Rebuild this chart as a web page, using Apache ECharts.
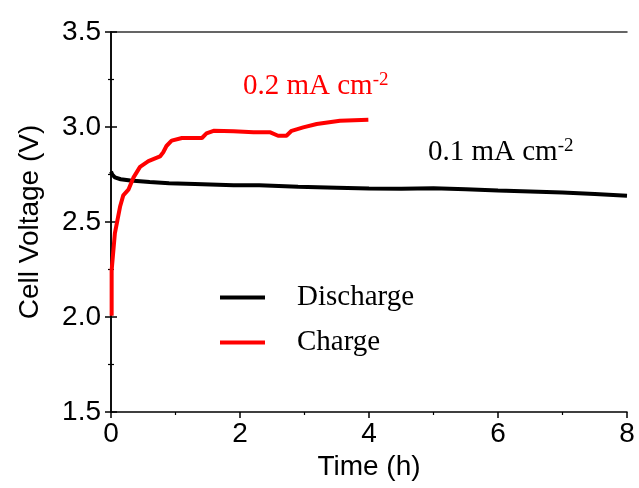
<!DOCTYPE html>
<html>
<head>
<meta charset="utf-8">
<script src="https://cdn.jsdelivr.net/npm/echarts@6/dist/echarts.min.js"></script>
<style>
  html, body { margin: 0; padding: 0; background: #fff; }
  #chart { width: 639px; height: 488px; }
</style>
</head>
<body>
<div id="chart"></div>
<script>
// values
const dischargeTime = [0, 0.02, 0.06, 0.15, 0.3, 0.6, 0.9, 1.3, 1.9, 2.3, 2.9, 3.5, 4.0, 4.5, 5.0, 5.5, 6.0, 6.5, 7.0, 7.5, 8.0]
const dischargeVolt = [2.765, 2.75, 2.735, 2.725, 2.718, 2.71, 2.704, 2.70, 2.693, 2.694, 2.685, 2.68, 2.676, 2.675, 2.677, 2.673, 2.666, 2.661, 2.655, 2.647, 2.638]

const chargeTime = [0.01, 0.01, 0.06, 0.14, 0.19, 0.27, 0.35, 0.45, 0.58, 0.76, 0.81, 0.86, 0.94, 1.10, 1.41, 1.48, 1.59, 1.90, 2.21, 2.47, 2.59, 2.72, 2.80, 2.98, 3.19, 3.55, 3.99]
const chargeVolt = [2.006, 2.245, 2.44, 2.58, 2.64, 2.67, 2.735, 2.79, 2.82, 2.845, 2.867, 2.90, 2.928, 2.942, 2.942, 2.966, 2.98, 2.977, 2.972, 2.972, 2.954, 2.954, 2.98, 2.998, 3.016, 3.033, 3.038]

const xTicks = { min: 0, max: 8, step: 2 }
const yTicks = { min: 1.5, max: 3.5, step: 0.5 }

const pairs = (xs, ys) => xs.map((x, i) => [x, ys[i]])

const sansFont = 'Liberation Sans, Arial, sans-serif'
const serifFont = 'Liberation Serif, Times New Roman, serif'

const axisLine = { show: true, lineStyle: { color: '#000', width: 1.5 } }
const tick = { show: true, inside: false, length: 6, lineStyle: { color: '#000', width: 1.5 } }
const minor = { show: true, splitNumber: 2, length: 3, lineStyle: { color: '#000', width: 1.2 } }

// superscript label, e.g. "0.2 mA cm-2"
const unitLabel = (x, y, value, color) => ({
  type: 'text',
  left: x,
  top: y,
  style: {
    text: '{a|' + value + ' mA cm}{s|-2}',
    rich: {
      a: { fontFamily: serifFont, fontSize: 29, lineHeight: 30, fill: color },
      s: { fontFamily: serifFont, fontSize: 19, lineHeight: 13, verticalAlign: 'top', fill: color }
    }
  }
})

const chart = echarts.init(document.getElementById('chart'), null, { renderer: 'canvas' })

const option = {
  animation: false,
  backgroundColor: '#fff',
  grid: { left: 111, right: 12, top: 32, bottom: 76 },
  legend: {
    orient: 'vertical',
    left: 220,
    top: 283,
    padding: 0,
    itemWidth: 45,
    itemHeight: 4,
    itemGap: 16,
    icon: 'rect',
    textStyle: { fontFamily: serifFont, fontSize: 29, color: '#000', lineHeight: 29, padding: [0, 0, 0, 27] },
    data: ['Discharge', 'Charge']
  },
  xAxis: [
    {
      type: 'value',
      min: xTicks.min,
      max: xTicks.max,
      interval: xTicks.step,
      name: 'Time (h)',
      nameLocation: 'middle',
      nameGap: 41,
      nameTextStyle: { fontFamily: sansFont, fontSize: 28, color: '#000' },
      axisLine: axisLine,
      axisTick: tick,
      minorTick: minor,
      splitLine: { show: false },
      axisLabel: { fontFamily: sansFont, fontSize: 28, color: '#000', margin: 8 }
    },
    {
      type: 'value',
      position: 'top',
      min: xTicks.min,
      max: xTicks.max,
      interval: xTicks.step,
      axisLine: { show: true, lineStyle: { color: '#333', width: 1.5 } },
      axisTick: { show: false },
      axisLabel: { show: false },
      splitLine: { show: false }
    }
  ],
  yAxis: [
    {
      type: 'value',
      min: yTicks.min,
      max: yTicks.max,
      interval: yTicks.step,
      name: 'Cell Voltage (V)',
      nameLocation: 'middle',
      nameGap: 67,
      nameTextStyle: { fontFamily: sansFont, fontSize: 28, color: '#000' },
      axisLine: axisLine,
      axisTick: tick,
      minorTick: minor,
      splitLine: { show: false },
      axisLabel: {
        fontFamily: sansFont, fontSize: 28, color: '#000', margin: 10,
        formatter: v => v.toFixed(1)
      }
    },
    {
      type: 'value',
      position: 'right',
      min: yTicks.min,
      max: yTicks.max,
      interval: yTicks.step,
      axisLine: axisLine,
      axisTick: tick,
      minorTick: minor,
      axisLabel: { show: false },
      splitLine: { show: false }
    }
  ],
  graphic: [
    unitLabel(243, 71, '0.2', '#ff0000'),
    unitLabel(428, 137, '0.1', '#000')
  ],
  series: [
    {
      name: 'Discharge',
      type: 'line',
      showSymbol: false,
      color: '#000',
      lineStyle: { width: 4, color: '#000' },
      data: pairs(dischargeTime, dischargeVolt)
    },
    {
      name: 'Charge',
      type: 'line',
      showSymbol: false,
      color: '#ff0000',
      lineStyle: { width: 4, color: '#ff0000' },
      data: pairs(chargeTime, chargeVolt)
    }
  ]
}

chart.setOption(option)
window.addEventListener('resize', chart.resize)
</script>
</body>
</html>
